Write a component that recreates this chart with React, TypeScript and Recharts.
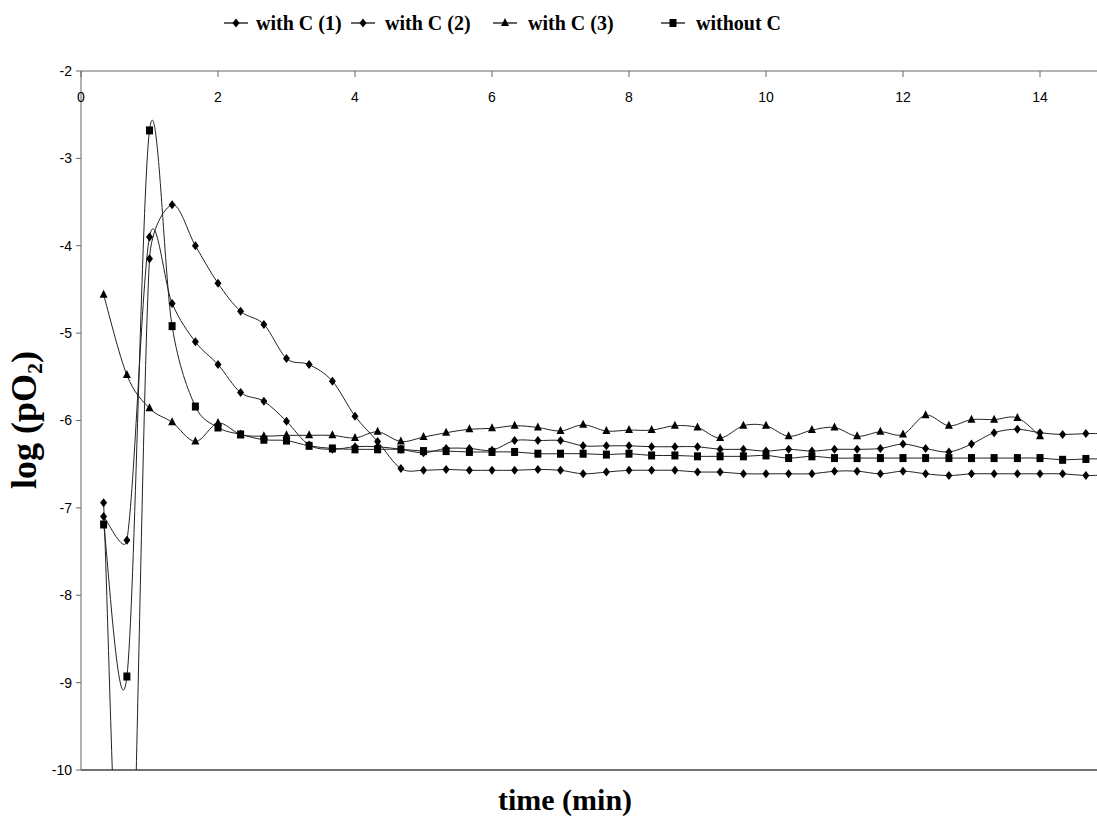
import React from "react";
import { LineChart, Line, XAxis, YAxis, ReferenceLine } from "recharts";

// sampling times (min)
const times = [
  0.33, 0.67, 1.0, 1.33, 1.67, 2.0, 2.33, 2.67, 3.0, 3.33, 3.67, 4.0, 4.33, 4.67, 5.0,
  5.33, 5.67, 6.0, 6.33, 6.67, 7.0, 7.33, 7.67, 8.0, 8.33, 8.67, 9.0, 9.33, 9.67, 10.0,
  10.33, 10.67, 11.0, 11.33, 11.67, 12.0, 12.33, 12.67, 13.0, 13.33, 13.67, 14.0, 14.33, 14.67, 15.0,
];

const withC1 = [
  -6.94, -13, -4.15, -3.53, -4.0, -4.43, -4.75, -4.9, -5.29, -5.36, -5.55, -5.95, -6.24, -6.55, -6.57,
  -6.56, -6.57, -6.57, -6.57, -6.56, -6.57, -6.61, -6.59, -6.57, -6.57, -6.57, -6.59, -6.59, -6.61, -6.61,
  -6.61, -6.61, -6.58, -6.58, -6.61, -6.58, -6.61, -6.63, -6.61, -6.61, -6.61, -6.61, -6.61, -6.63, -6.62,
];

const withC2 = [
  -7.1, -7.37, -3.9, -4.66, -5.1, -5.36, -5.68, -5.78, -6.01, -6.28, -6.33, -6.3, -6.3, -6.33, -6.37,
  -6.32, -6.32, -6.34, -6.23, -6.23, -6.23, -6.29, -6.29, -6.29, -6.3, -6.3, -6.3, -6.33, -6.33, -6.35,
  -6.33, -6.35, -6.33, -6.33, -6.32, -6.27, -6.32, -6.36, -6.27, -6.14, -6.1, -6.14, -6.16, -6.15, -6.15,
];

const withC3 = [
  -4.56, -5.48, -5.86, -6.02, -6.24, -6.03, -6.16, -6.18, -6.17, -6.17, -6.17, -6.2, -6.13, -6.24, -6.19,
  -6.14, -6.1, -6.09, -6.06, -6.08, -6.12, -6.05, -6.12, -6.11, -6.11, -6.06, -6.08, -6.2, -6.06, -6.06,
  -6.18, -6.11, -6.08, -6.18, -6.13, -6.16, -5.94, -6.06, -5.99, -5.99, -5.97, -6.18, null, null, null,
];

const withoutC = [
  -7.19, -8.93, -2.68, -4.92, -5.84, -6.08, -6.16, -6.22, -6.23, -6.29, -6.32, -6.33, -6.33, -6.33, -6.35,
  -6.35, -6.36, -6.36, -6.36, -6.38, -6.38, -6.38, -6.39, -6.38, -6.4, -6.4, -6.41, -6.41, -6.41, -6.4,
  -6.43, -6.41, -6.43, -6.43, -6.43, -6.43, -6.43, -6.43, -6.43, -6.43, -6.43, -6.43, -6.45, -6.44, -6.44,
];

const xTicks = [0, 2, 4, 6, 8, 10, 12, 14];
const yTicks = [-10, -9, -8, -7, -6, -5, -4, -3, -2];

const series = [
  { key: "c1", name: "with C (1)", shape: "diamond", values: withC1 },
  { key: "c2", name: "with C (2)", shape: "diamond", values: withC2 },
  { key: "c3", name: "with C (3)", shape: "triangle", values: withC3 },
  { key: "none", name: "without C", shape: "square", values: withoutC },
];

const chartData = times.map((t, i) => {
  const row: Record<string, number | null> = { t };
  series.forEach((s) => {
    row[s.key] = s.values[i];
  });
  return row;
});

// Excel-style smoothing: catmull-rom beziers, control arms capped at half the segment
const excelSmooth = (context: any) => {
  let pts: number[][] = [];
  const arm = (dx: number, dy: number, seg: number) => {
    const len = Math.hypot(dx, dy);
    const max = seg * 0.5;
    return len > max && len > 0 ? [(dx * max) / len, (dy * max) / len] : [dx, dy];
  };
  return {
    areaStart() {},
    areaEnd() {},
    lineStart() {
      pts = [];
    },
    point(x: number, y: number) {
      pts.push([+x, +y]);
    },
    lineEnd() {
      const n = pts.length;
      if (!n) return;
      context.moveTo(pts[0][0], pts[0][1]);
      for (let i = 0; i < n - 1; i++) {
        const p0 = pts[Math.max(i - 1, 0)];
        const p1 = pts[i];
        const p2 = pts[i + 1];
        const p3 = pts[Math.min(i + 2, n - 1)];
        const seg = Math.hypot(p2[0] - p1[0], p2[1] - p1[1]);
        const a = arm((p2[0] - p0[0]) / 6, (p2[1] - p0[1]) / 6, seg);
        const b = arm((p3[0] - p1[0]) / 6, (p3[1] - p1[1]) / 6, seg);
        context.bezierCurveTo(p1[0] + a[0], p1[1] + a[1], p2[0] - b[0], p2[1] - b[1], p2[0], p2[1]);
      }
    },
  };
};

function markerShape(shape: string, cx: number, cy: number, key?: React.Key) {
  if (shape === "diamond") {
    return (
      <path key={key} d={`M${cx},${cy - 4.5}L${cx + 3.5},${cy}L${cx},${cy + 4.5}L${cx - 3.5},${cy}Z`} fill="#000" />
    );
  }
  if (shape === "triangle") {
    return <path key={key} d={`M${cx},${cy - 5}L${cx + 4},${cy + 3}L${cx - 4},${cy + 3}Z`} fill="#000" />;
  }
  return <rect key={key} x={cx - 3.5} y={cy - 4} width={7} height={8} fill="#000" />;
}

function makeDot(shape: string) {
  return (props: any) => {
    const { cx, cy, index, value } = props;
    if (cx == null || cy == null || value == null) return <g key={`e-${index}`} />;
    return markerShape(shape, cx, cy, `d-${index}`);
  };
}

const tickFont = '"Liberation Sans", Arial, sans-serif';
const AXIS_TOP = 71;

// x axis sits on the top edge; its ticks and labels hang below the line
function TopTick(props: any) {
  const { x, payload } = props;
  return (
    <g>
      <line x1={x} y1={AXIS_TOP} x2={x} y2={AXIS_TOP + 6} stroke="#666" />
      <text x={x} y={AXIS_TOP + 31} textAnchor="middle" fontSize={14} fontFamily={tickFont} fill="#000">
        {payload.value}
      </text>
    </g>
  );
}

const legendLeft = [224, 351, 493, 661];
const legendTextLeft = [256, 385, 528, 696];

function ChartLegend() {
  return (
    <div style={{ position: "absolute", left: 0, top: 0, width: 1097, height: 46 }}>
      {series.map((s, i) => (
        <React.Fragment key={s.key}>
          <svg width={24} height={14} style={{ position: "absolute", left: legendLeft[i], top: 16 }}>
            <line x1={0} y1={7} x2={24} y2={7} stroke="#000" strokeWidth={1.2} />
            {markerShape(s.shape, 12, 7)}
          </svg>
          <div
            style={{
              position: "absolute",
              left: legendTextLeft[i],
              top: 9,
              fontFamily: '"Liberation Serif", "Times New Roman", serif',
              fontWeight: "bold",
              fontSize: 20,
              lineHeight: "28px",
              whiteSpace: "nowrap",
            }}
          >
            {s.name}
          </div>
        </React.Fragment>
      ))}
    </div>
  );
}

export default function App() {
  return (
    <div
      style={{
        position: "fixed",
        left: 0,
        top: 0,
        width: 1097,
        height: 823,
        overflow: "hidden",
        background: "#fff",
      }}
    >
      <LineChart width={1197} height={823} data={chartData} margin={{ top: 41, right: 20, left: 0, bottom: 53 }}>
        <XAxis
          dataKey="t"
          type="number"
          domain={[0, 16]}
          ticks={xTicks}
          orientation="top"
          height={30}
          tickLine={false}
          stroke="#666"
          tick={<TopTick />}
          allowDataOverflow
        />
        <YAxis
          type="number"
          domain={[-10, -2]}
          ticks={yTicks}
          width={81}
          tickSize={5}
          tickMargin={4}
          stroke="#666"
          tick={{ fontSize: 14, fill: "#000", fontFamily: tickFont }}
          allowDataOverflow
        />
        <ReferenceLine y={-10} stroke="#444" strokeWidth={1.6} ifOverflow="visible" />
        {series.map((s) => (
          <Line
            key={s.key}
            dataKey={s.key}
            name={s.name}
            type={excelSmooth as any}
            stroke="#222"
            strokeWidth={1}
            dot={makeDot(s.shape)}
            activeDot={false}
            isAnimationActive={false}
          />
        ))}
      </LineChart>
      <ChartLegend />
      <div
        style={{
          position: "absolute",
          left: 29,
          top: 420,
          transform: "translate(-50%, -50%) rotate(-90deg)",
          fontFamily: '"Liberation Serif", "Times New Roman", serif',
          fontWeight: "bold",
          fontSize: 36,
          whiteSpace: "nowrap",
          lineHeight: "40px",
        }}
      >
        log (pO<span style={{ fontSize: 22, verticalAlign: -6 }}>2</span>)
      </div>
      <div
        style={{
          position: "absolute",
          left: 565,
          top: 800,
          transform: "translate(-50%, -50%)",
          fontFamily: '"Liberation Serif", "Times New Roman", serif',
          fontWeight: "bold",
          fontSize: 30,
          whiteSpace: "nowrap",
          lineHeight: "34px",
        }}
      >
        time (min)
      </div>
    </div>
  );
}
